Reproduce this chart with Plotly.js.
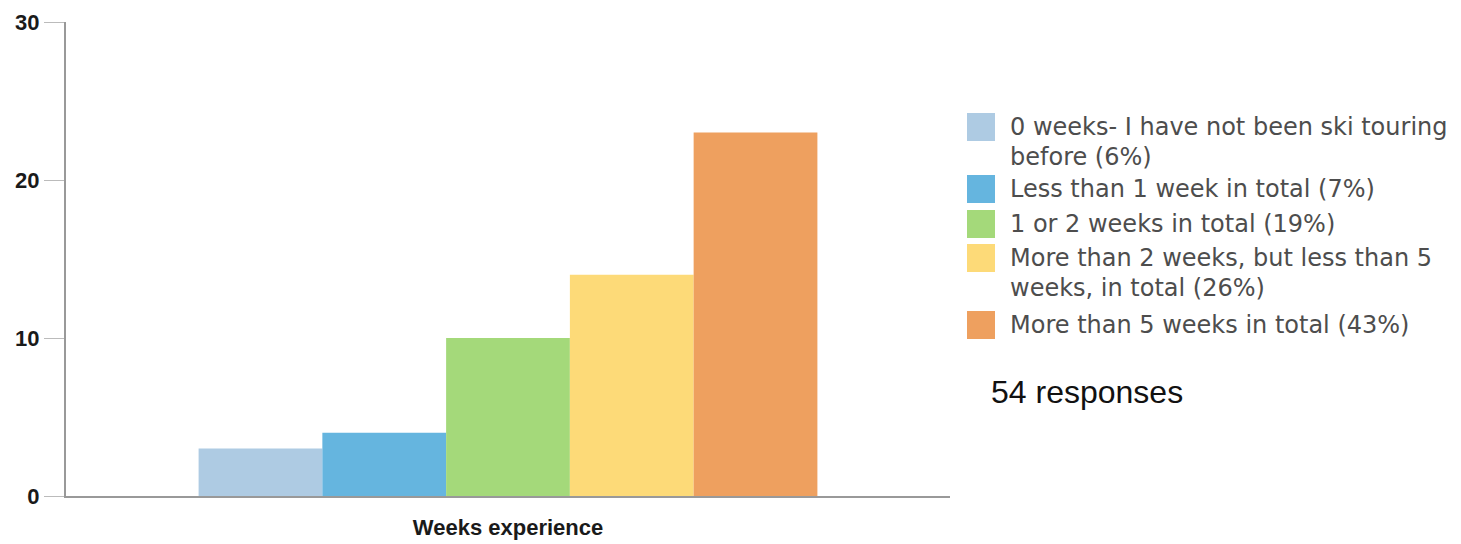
<!DOCTYPE html>
<html>
<head>
<meta charset="utf-8">
<script src="https://cdn.plot.ly/plotly-3.0.1.min.js"></script>
<style>html,body{margin:0;padding:0;background:#fff;}#chart{width:1461px;height:544px;}</style>
</head>
<body>
<div id="chart"></div>
<script>
const category = ["Weeks experience"];
const seriesNames = [
  "0 weeks- I have not been ski touring<br>before (6%)",
  "Less than 1 week in total (7%)",
  "1 or 2 weeks in total (19%)",
  "More than 2 weeks, but less than 5<br>weeks, in total (26%)",
  "More than 5 weeks in total (43%)"
];
const seriesValues = [3, 4, 10, 14, 23];
const seriesColors = ["#aecbe3", "#65b5df", "#a4d97a", "#fdda78", "#eea05f"];
const responsesText = "54 responses";
const yTicks = [0, 10, 20, 30];

const traces = seriesValues.map((v, i) => ({
  type: "bar",
  x: category,
  y: [v],
  name: seriesNames[i].replace("<br>", " "),
  marker: {color: seriesColors[i], line: {width: 0}},
  showlegend: false,
  hoverinfo: "skip"
}));

// layout geometry (pixels) for the hand-built legend
const W = 1461, H = 544;
const M = {l: 66, r: 511, t: 22, b: 48};
const PW = W - M.l - M.r, PH = H - M.t - M.b;
const px2x = p => (p - M.l) / PW;
const px2y = p => 1 - (p - M.t) / PH;
const legendSwatchX = 967, legendSwatchSize = 28, legendTextX = 1008;
const legendRowY = [127, 189, 224, 258, 325];
const legendLineGap = 30;

const shapes = [];
const annotations = [];
seriesNames.forEach((n, i) => {
  const cy = legendRowY[i];
  shapes.push({
    type: "rect", xref: "paper", yref: "paper",
    x0: px2x(legendSwatchX), x1: px2x(legendSwatchX + legendSwatchSize),
    y0: px2y(cy + legendSwatchSize / 2), y1: px2y(cy - legendSwatchSize / 2),
    fillcolor: seriesColors[i], line: {width: 0}
  });
  n.split("<br>").forEach((line, j) => {
    annotations.push({
      xref: "paper", yref: "paper",
      x: px2x(legendTextX), y: px2y(cy + j * legendLineGap),
      xanchor: "left", yanchor: "middle", align: "left",
      showarrow: false, text: line,
      font: {family: "DejaVu Sans, Verdana, sans-serif", size: 24, color: "#4d4d4d"}
    });
  });
});
annotations.push({
  xref: "paper", yref: "paper",
  x: px2x(989), y: px2y(392),
  xanchor: "left", yanchor: "middle", showarrow: false,
  text: responsesText,
  font: {family: "Liberation Sans, Arial, sans-serif", size: 32, color: "#111"}
});

const layout = {
  width: W, height: H,
  margin: M,
  paper_bgcolor: "#ffffff", plot_bgcolor: "#ffffff",
  barmode: "group", bargap: 0.3, bargroupgap: 0,
  showlegend: false,
  xaxis: {
    type: "category", range: [-0.5, 0.5],
    showline: true, linecolor: "#999", linewidth: 2,
    showgrid: false, zeroline: false,
    ticks: "outside", ticklen: 11, tickcolor: "rgba(0,0,0,0)",
    tickfont: {family: "Liberation Sans, Arial, sans-serif", size: 22, color: "#1a1a1a", weight: "bold"}
  },
  yaxis: {
    range: [0, 30], tickvals: yTicks, ticktext: yTicks.map(String),
    showline: true, linecolor: "#999", linewidth: 2,
    showgrid: false, zeroline: false,
    ticks: "outside", ticklen: 20, tickcolor: "#bbb", tickwidth: 1,
    tickfont: {family: "Liberation Sans, Arial, sans-serif", size: 22, color: "#1a1a1a", weight: "bold"}
  },
  shapes: shapes,
  annotations: annotations
};

Plotly.newPlot("chart", traces, layout, {staticPlot: true, displayModeBar: false});
</script>
</body>
</html>
